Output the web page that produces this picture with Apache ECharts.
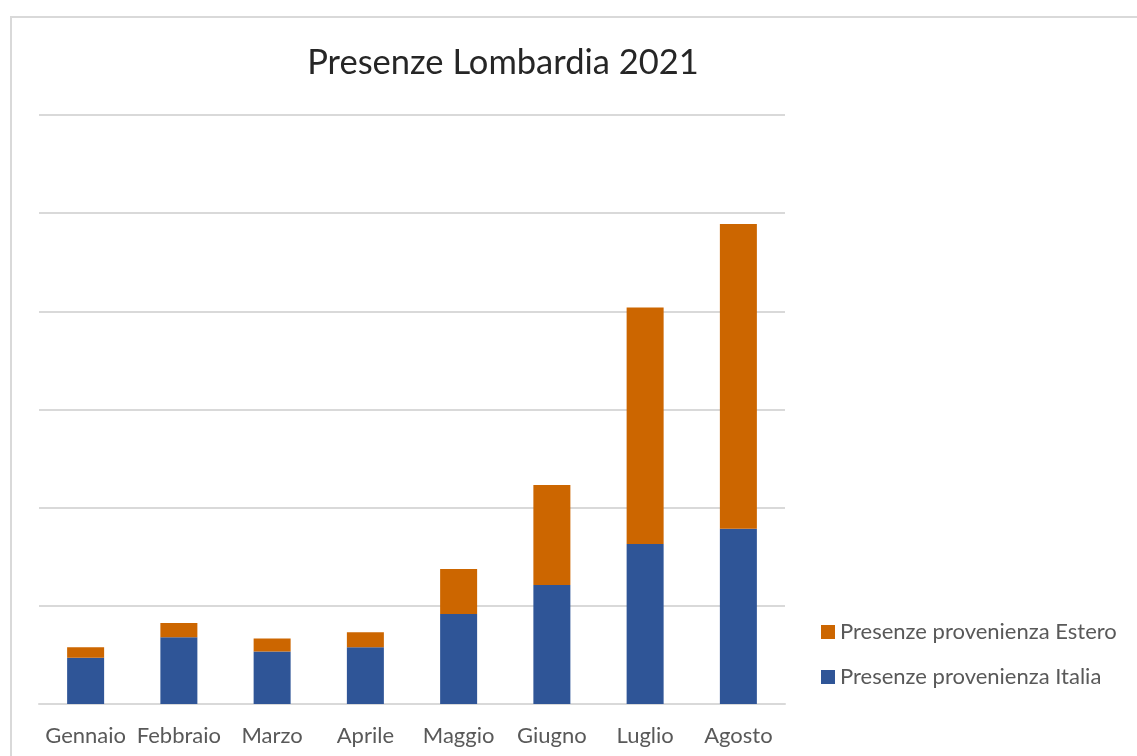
<!DOCTYPE html>
<html>
<head>
<meta charset="utf-8">
<script src="https://cdn.jsdelivr.net/npm/echarts@6/dist/echarts.min.js"></script>
<style>
html,body{margin:0;padding:0;background:#fff;}
#chart{width:1137px;height:756px;}
</style>
</head>
<body>
<div id="chart"></div>
<script>
// Values in thousands of presenze
const categories = ['Gennaio','Febbraio','Marzo','Aprile','Maggio','Giugno','Luglio','Agosto'];
const italia = [235, 340, 268, 289, 459, 606, 815, 892];
const estero = [54, 73, 65, 76, 229, 510, 1205, 1553];
const seriesNames = ['Presenze provenienza Italia', 'Presenze provenienza Estero'];
const titleText = 'Presenze Lombardia 2021';

const FONT = 'Lato';
const chart = echarts.init(document.getElementById('chart'));
chart.setOption({
  animation: false,
  backgroundColor: '#fff',
  graphic: [{
    type: 'rect',
    shape: { x: 11, y: 17, width: 1300, height: 900 },
    style: { fill: 'none', stroke: '#d9d9d9', lineWidth: 2 },
    silent: true
  }],
  title: {
    text: titleText,
    left: 498, top: 40,
    textAlign: 'center',
    textStyle: { fontFamily: FONT, fontSize: 34.5, fontWeight: 'normal', color: '#262626' }
  },
  legend: {
    orient: 'vertical',
    left: 816, top: 616,
    itemWidth: 14, itemHeight: 14, itemGap: 23,
    icon: 'rect',
    data: [seriesNames[1], seriesNames[0]],
    textStyle: { fontFamily: FONT, fontSize: 22, color: '#595959', lineHeight: 22 }
  },
  grid: { left: 39, right: 352, top: 115, bottom: 52 },
  xAxis: {
    type: 'category',
    data: categories,
    axisLine: { lineStyle: { color: '#d9d9d9', width: 2 } },
    axisTick: { show: false },
    axisLabel: { fontFamily: FONT, fontSize: 22, color: '#595959', margin: 21, interval: 0 }
  },
  yAxis: {
    type: 'value',
    min: 0, max: 3000, interval: 500,
    axisLabel: { show: false },
    axisLine: { show: false },
    axisTick: { show: false },
    splitLine: { lineStyle: { color: '#d9d9d9', width: 2 } }
  },
  series: [
    { name: seriesNames[0], type: 'bar', stack: 'tot', data: italia, barWidth: 37,
      itemStyle: { color: '#2F5597' } },
    { name: seriesNames[1], type: 'bar', stack: 'tot', data: estero, barWidth: 37,
      itemStyle: { color: '#CC6600' } }
  ]
});
</script>
</body>
</html>
